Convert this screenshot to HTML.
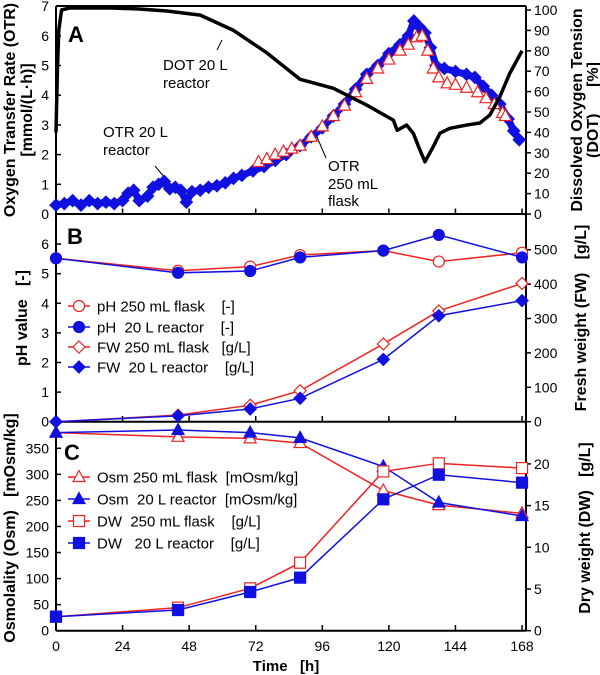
<!DOCTYPE html>
<html><head><meta charset="utf-8">
<style>
html,body{margin:0;padding:0;background:#fff;}
svg{display:block;font-family:"Liberation Sans",Arial,sans-serif;}
text{white-space:pre;}
</style></head>
<body>
<svg id="chart" width="600" height="675" viewBox="0 0 600 675" xmlns="http://www.w3.org/2000/svg">
<g id="frames"></g>
<g id="marks"></g>
<g id="labels"></g>
</svg>
<script>
// ---- shared x axis ----
const timeTicks = [0, 24, 48, 72, 96, 120, 144, 168];
// ---- Panel A data ----
const otrReactorT = [0,3,6,9,12,15,18,21,24,26,28,30,33,35,37,39,41,43,45,47,49,52,55,58,61,64,67,71,75,79,83,88,92,96,100,104,108,112,116,120,124,127,129,131,133,135,137,140,144,148,151,154,157,160,163,165,167];
const otrReactorV = [0.3,0.35,0.45,0.3,0.45,0.35,0.4,0.35,0.45,0.7,0.8,0.45,0.6,0.9,1.0,1.1,0.85,0.9,0.8,0.4,0.75,0.8,0.9,0.95,1.05,1.2,1.3,1.45,1.6,1.8,2.0,2.3,2.6,2.9,3.3,3.7,4.2,4.7,5.0,5.4,5.7,6.0,6.5,6.3,6.1,5.6,5.0,4.9,4.8,4.7,4.6,4.3,4.0,3.7,3.2,2.8,2.5];
const otrFlaskT = [73,76,79,82,85,88,92,96,100,104,108,112,116,120,124,127,130,132,134,136,138,141,144,148,152,155,158,161,162];
const otrFlaskV = [1.75,1.85,2.0,2.1,2.2,2.3,2.6,2.95,3.3,3.65,4.1,4.55,4.9,5.2,5.5,5.7,5.95,6.0,5.5,4.9,4.6,4.4,4.35,4.25,4.1,3.9,3.7,3.4,3.3];
const dotT = [0,0.5,1,2,5,10,20,30,40,52,64,76,88,100,112,121.6,123,126.4,128.8,131,133,136,138.4,142,148,152.8,156.4,160,163.6,166,168];
const dotV = [40,70,90,100,101,101,101,100.5,99.5,97.5,90,79,66,61.6,53.4,46,41,43.6,39.6,32,25.6,33,39.6,42,43.6,44.6,48.5,57.5,69,75,80];
const otrTicks = [0,1,2,3,4,5,6,7];
const dotTicks = [0,10,20,30,40,50,60,70,80,90,100];
// ---- Panel B data ----
const sampleT = [0,44,70,88,118,138,168];
const phFlask = [5.52,5.1,5.24,5.63,5.78,5.41,5.71];
const phReactor = [5.52,5.03,5.09,5.55,5.78,6.31,5.55];
const fwFlask = [0,19,48,90,226,322,402];
const fwReactor = [0,17,37,68,181,308,352];
const phTicks = [0,1,2,3,4,5,6];
const fwTicks = [0,100,200,300,400,500];
// ---- Panel C data ----
const osmFlask = [380,372,369,360,269,241,225];
const osmReactor = [380,385,380,370,315,246,220];
const dwFlask = [1.68,2.76,5.08,8.15,19.1,20.07,19.5];
const dwReactor = [1.68,2.48,4.64,6.36,15.75,18.7,17.75];
const osmTicks = [0,50,100,150,200,250,300,350];
const dwTicks = [0,5,10,15,20];

const NS = "http://www.w3.org/2000/svg";
const XL = 56, XR = 526;
const xS = t => 56 + t * 2.774;
const yOtr = v => 214 - v * 29.7;
const yDot = v => 214 - v * 2.04;
const yPh = v => 421.7 - v * 29.6;
const yFw = v => 421.7 - v * 0.344;
const yOsm = v => 630.7 - v * 0.5212;
const yDw = v => 630.7 - v * 8.34;
const RED = "#ee2222", BLUE = "#1010e0";

function mk(tag, attrs, parent, text) {
  const e = document.createElementNS(NS, tag);
  for (const k in attrs) e.setAttribute(k, attrs[k]);
  if (text !== undefined) e.textContent = text;
  parent.appendChild(e);
  return e;
}
const frames = document.getElementById('frames');
const marks = document.getElementById('marks');
const labels = document.getElementById('labels');

function line(x1,y1,x2,y2,name,w){
  const e = mk('line',{x1,y1,x2,y2,stroke:'#000','stroke-width':w||2},frames);
  
  
  return e;
}
function txt(x,y,s,name,opts){
  opts = opts||{};
  const a = {x,y,'font-size':opts.size||14,'text-anchor':opts.anchor||'start',fill:'#000'};
  if (opts.bold) a['font-weight']='bold';
  if (opts.rot) a.transform='rotate(-90 '+x+' '+y+')';
  const e = mk('text',a,labels,s);
  
  
  return e;
}

// panel frames
line(XL,6,XR,6,'panel-a-top-border');
line(XL,214,XR,214,'panel-a-bottom-border');
line(XL,421.7,XR,421.7,'panel-b-bottom-border');
line(XL,630.7,XR,630.7,'x-axis-line');
line(XL,6,XL,630.7,'left-axis-line');
line(XR,6,XR,630.7,'right-axis-line');

// x ticks
timeTicks.forEach(t=>{
  line(xS(t),630.7,xS(t),625,'x-tick',1.5);
  line(xS(t),421.7,xS(t),416,'x-tick-b',1.5);
  line(xS(t),214,xS(t),208.5,'x-tick-a',1.5);
  txt(xS(t),651,String(t),'x-tick-label',{anchor:'middle'});
});
txt(286,671,'Time   [h]','x-axis-title',{anchor:'middle',bold:true,size:15});

// y ticks
function leftTicks(arr, yf, name){
  arr.forEach(v=>{
    line(XL,yf(v),XL+5,yf(v),name+'-tick',1.5);
    txt(XL-7,yf(v)+5,String(v),name+'-tick-label',{anchor:'end'});
  });
}
function rightTicks(arr, yf, name){
  arr.forEach(v=>{
    line(XR,yf(v),XR+5,yf(v),name+'-tick',1.5);
    txt(XR+8,yf(v)+5,String(v),name+'-tick-label');
  });
}
leftTicks(otrTicks,yOtr,'otr');
rightTicks(dotTicks,yDot,'dot');
leftTicks(phTicks,yPh,'ph');
rightTicks(fwTicks,yFw,'fw');
leftTicks(osmTicks,yOsm,'osm');
rightTicks(dwTicks,yDw,'dw');

// axis titles
txt(15,110,'Oxygen Transfer Rate (OTR)','otr-axis-title',{anchor:'middle',bold:true,rot:true,size:16});
txt(32,110,'[mmol/(L·h)]','otr-axis-unit',{anchor:'middle',bold:true,rot:true,size:16});
txt(582,110,'Dissolved Oxygen Tension','dot-axis-title',{anchor:'middle',bold:true,rot:true,size:16});
txt(598,110,'(DOT)      [%]','dot-axis-unit',{anchor:'middle',bold:true,rot:true,size:16});
txt(27,318,'pH value   [-]','ph-axis-title',{anchor:'middle',bold:true,rot:true,size:16});
txt(586,318,'Fresh weight (FW)   [g/L]','fw-axis-title',{anchor:'middle',bold:true,rot:true,size:16});
txt(15,528,'Osmolality (Osm)   [mOsm/kg]','osm-axis-title',{anchor:'middle',bold:true,rot:true,size:16});
txt(590,528,'Dry weight (DW)   [g/L]','dw-axis-title',{anchor:'middle',bold:true,rot:true,size:16});

// panel letters
txt(68,42,'A','panel-label-a',{bold:true,size:22});
txt(67,244,'B','panel-label-b',{bold:true,size:22});
txt(64,460,'C','panel-label-c',{bold:true,size:22});

// annotations
txt(163,70,'DOT 20 L','dot-annotation',{size:15});
txt(163,88,'reactor','dot-annotation-2',{size:15});
line(217,50,222,40,'dot-leader',1);
txt(103,137,'OTR 20 L','otr-reactor-annotation',{size:15});
txt(103,155,'reactor','otr-reactor-annotation-2',{size:15});
line(155,166,165,178,'otr-reactor-leader',1);
txt(328,171,'OTR','otr-flask-annotation',{size:15});
txt(328,189,'250 mL','otr-flask-annotation-2',{size:15});
txt(328,206,'flask','otr-flask-annotation-3',{size:15});
line(326,158,317,137,'otr-flask-leader',1);

// marker helpers
function marker(kind, x, y, color, filled, parent){
  let e;
  const fill = filled ? color : '#fff';
  if (kind==='circle') e = mk('circle',{cx:x,cy:y,r:5.5,fill,stroke:color,'stroke-width':1.2},parent);
  else if (kind==='diamond') e = mk('polygon',{points:`${x},${y-6} ${x+6},${y} ${x},${y+6} ${x-6},${y}`,fill,stroke:color,'stroke-width':1.2},parent);
  else if (kind==='square') e = mk('rect',{x:x-5.5,y:y-5.5,width:11,height:11,fill,stroke:color,'stroke-width':1.2},parent);
  else e = mk('polygon',{points:`${x},${y-6.5} ${x+6},${y+4.5} ${x-6},${y+4.5}`,fill,stroke:color,'stroke-width':1.2},parent);
  return e;
}
function series(ts, vs, yf, color, kind, filled, name){
  const g = mk('g',{},marks);
  
  
  const pts = ts.map((t,i)=>xS(t)+','+yf(vs[i])).join(' ');
  const pl = mk('polyline',{points:pts,fill:'none',stroke:color,'stroke-width':1.5},g);
  
  
  ts.forEach((t,i)=>{
    const m = marker(kind,xS(t),yf(vs[i]),color,filled,g);
    
    
  });
}

// Panel A
(function(){
  const g = mk('g',{},marks);
  
  
  const pl = mk('polyline',{points:otrReactorT.map((t,i)=>xS(t)+','+yOtr(otrReactorV[i])).join(' '),fill:'none',stroke:BLUE,'stroke-width':7,'stroke-linejoin':'round'},g);
  
  
  otrReactorT.forEach((t,i)=>{
    const m = marker('diamond',xS(t),yOtr(otrReactorV[i]),BLUE,true,g);
    
    
  });
  const g2 = mk('g',{},marks);
  
  
  otrFlaskT.forEach((t,i)=>{
    const m = marker('triangle',xS(t),yOtr(otrFlaskV[i]),RED,false,g2);
    
    
  });
  const d = mk('polyline',{points:dotT.map((t,i)=>xS(t)+','+yDot(dotV[i])).join(' '),fill:'none',stroke:'#000','stroke-width':3.5,'stroke-linejoin':'round'},marks);
  
  
})();

// Panel B
series(sampleT,fwFlask,yFw,RED,'diamond',false,'fw-flask-series');
series(sampleT,fwReactor,yFw,BLUE,'diamond',true,'fw-reactor-series');
series(sampleT,phFlask,yPh,RED,'circle',false,'ph-flask-series');
series(sampleT,phReactor,yPh,BLUE,'circle',true,'ph-reactor-series');
// Panel C
series(sampleT,osmFlask,yOsm,RED,'triangle',false,'osm-flask-series');
series(sampleT,osmReactor,yOsm,BLUE,'triangle',true,'osm-reactor-series');
series(sampleT,dwFlask,yDw,RED,'square',false,'dw-flask-series');
series(sampleT,dwReactor,yDw,BLUE,'square',true,'dw-reactor-series');

// legends
function legend(y, color, kind, filled, text, name){
  const g = mk('g',{},labels);
  
  
  mk('line',{x1:68,y1:y,x2:90,y2:y,stroke:color,'stroke-width':1.5},g);
  marker(kind,79,y,color,filled,g);
  mk('text',{x:97,y:y+5.5,'font-size':15,fill:'#000'},g,text);
}
legend(306,RED,'circle',false,'pH 250 mL flask    [-]','legend-ph-flask');
legend(327,BLUE,'circle',true,'pH  20 L reactor    [-]','legend-ph-reactor');
legend(347,RED,'diamond',false,'FW 250 mL flask   [g/L]','legend-fw-flask');
legend(367,BLUE,'diamond',true,'FW  20 L reactor    [g/L]','legend-fw-reactor');
legend(477,RED,'triangle',false,'Osm 250 mL flask  [mOsm/kg]','legend-osm-flask');
legend(499,BLUE,'triangle',true,'Osm  20 L reactor  [mOsm/kg]','legend-osm-reactor');
legend(521,RED,'square',false,'DW  250 mL flask    [g/L]','legend-dw-flask');
legend(543,BLUE,'square',true,'DW   20 L reactor    [g/L]','legend-dw-reactor');
</script>
</body></html>
